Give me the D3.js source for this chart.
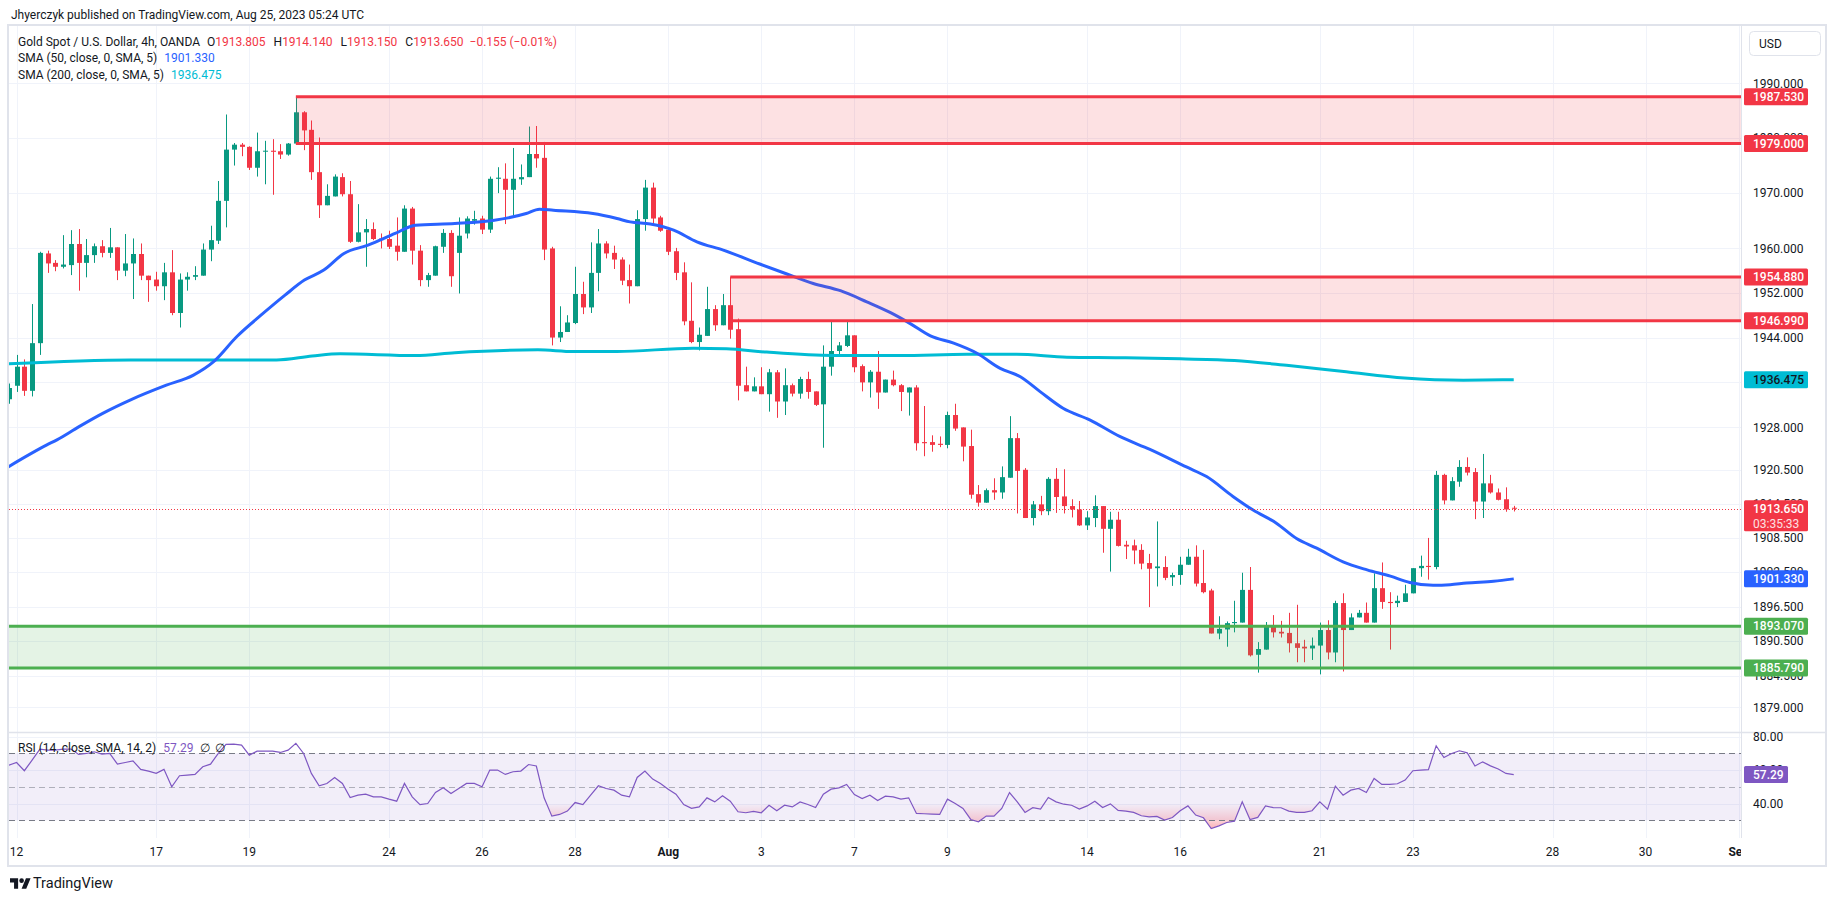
<!DOCTYPE html>
<html>
<head>
<meta charset="utf-8">
<script src="https://cdnjs.cloudflare.com/ajax/libs/d3/7.8.5/d3.min.js"></script>
<style>
  body { margin: 0; background: #fff; }
  svg { display: block; font-family: Roboto, "Noto Sans", sans-serif; }
</style>
</head>
<body>
<svg id="chart"></svg>
<script>
// ---- values (4h XAUUSD, bar 0 = Jul 12 first bar) ----
const firstBar = -1;
const opens = [1933.0,
  1935.4,1938.8,1934.5,1943.0,1959.1,1957.4,1956.7,1957.0,1960.8,1957.4,
  1958.8,1960.4,1959.2,1960.2,1956.0,1957.3,1959.0,1955.1,1954.4,1953.2,
  1955.7,1948.4,1954.4,1954.9,1955.1,1959.8,1961.4,1968.6,1977.9,1978.8,
  1978.4,1974.6,1977.6,1977.7,1977.6,1977.0,1979.0,1984.7,1981.5,1973.8,
  1967.8,1969.4,1972.9,1969.8,1961.2,1962.9,1963.5,1961.8,1961.7,1960.5,
  1959.4,1967.2,1959.6,1954.3,1955.1,1960.3,1962.8,1959.2,1962.7,1965.0,
  1965.4,1963.4,1972.6,1972.6,1970.6,1972.5,1972.9,1977.1,1976.4,1960.0,
  1944.0,1945.0,1946.6,1951.8,1949.4,1955.6,1960.9,1959.2,1958.0,1954.3,
  1953.2,1965.3,1971.0,1965.6,1963.4,1959.5,1955.7,1947.0,1943.2,1944.3,
  1949.1,1946.2,1949.8,1945.5,1935.5,1934.4,1935.3,1933.9,1937.8,1932.6,
  1935.5,1934.0,1936.6,1934.4,1932.1,1938.8,1941.6,1942.5,1944.4,1938.9,
  1936.0,1937.9,1934.2,1936.5,1935.5,1934.2,1935.1,1925.4,1925.4,1925.1,
  1924.9,1930.2,1928.0,1924.7,1916.2,1914.7,1916.9,1916.5,1919.1,1926.1,
  1920.5,1912.0,1914.4,1913.2,1918.9,1915.8,1914.1,1913.5,1910.7,1912.0,
  1914.1,1910.1,1911.7,1907.3,1907.2,1906.4,1904.1,1903.2,1903.4,1901.6,
  1902.0,1903.8,1905.2,1900.6,1899.3,1891.8,1892.5,1893.6,1893.7,1899.4,
  1888.1,1889.0,1893.1,1892.1,1891.9,1890.1,1889.5,1889.2,1889.7,1892.4,
  1888.5,1897.1,1892.4,1894.6,1895.4,1893.7,1899.7,1897.3,1897.1,1897.3,
  1898.8,1903.2,1903.6,1903.4,1919.6,1915.1,1918.4,1921.0,1920.1,1914.9,
  1918.1,1916.5,1915.3,1913.805];
const highs = [1935.8,
  1940.9,1940.1,1950.0,1959.4,1959.6,1957.9,1962.4,1963.3,1963.5,1961.7,
  1960.9,1961.5,1963.7,1960.2,1962.6,1961.8,1960.9,1955.1,1955.8,1957.4,
  1959.7,1955.5,1955.7,1956.8,1960.9,1964.1,1972.2,1984.3,1979.1,1979.1,
  1978.5,1981.0,1979.5,1979.8,1978.9,1979.1,1987.53,1984.9,1983.2,1980.1,
  1971.6,1973.4,1973.6,1972.2,1968.0,1965.3,1964.7,1962.7,1963.2,1965.6,
  1967.8,1967.5,1960.6,1955.6,1960.5,1963.5,1963.3,1965.6,1965.8,1966.8,
  1965.9,1973.0,1974.7,1975.4,1978.2,1975.2,1982.1,1982.2,1979.3,1960.3,
  1949.6,1948.0,1956.7,1954.0,1961.1,1963.5,1961.3,1960.5,1958.4,1957.1,
  1966.9,1972.4,1971.9,1965.9,1963.8,1960.1,1957.5,1953.9,1945.8,1953.1,
  1949.8,1951.8,1954.88,1947.4,1938.8,1936.9,1938.7,1938.4,1938.2,1938.5,
  1935.8,1937.0,1937.9,1934.4,1942.6,1946.9,1943.2,1946.9,1944.4,1939.2,
  1938.2,1941.6,1936.5,1938.1,1935.7,1935.1,1935.5,1931.8,1926.6,1926.4,
  1930.8,1932.2,1928.0,1927.6,1917.8,1917.2,1919.0,1921.1,1930.0,1927.0,
  1920.8,1915.0,1915.9,1919.2,1920.8,1920.6,1915.3,1915.0,1913.2,1916.0,
  1914.1,1913.1,1913.1,1908.0,1908.2,1907.4,1905.7,1911.4,1905.3,1902.4,
  1905.2,1906.6,1907.2,1906.4,1899.6,1894.8,1893.9,1897.5,1902.4,1903.4,
  1890.3,1893.8,1895.0,1894.0,1895.4,1896.8,1890.7,1891.1,1893.7,1894.1,
  1897.5,1898.8,1895.3,1895.9,1897.2,1902.3,1904.2,1899.0,1898.4,1900.3,
  1903.2,1905.4,1908.5,1920.3,1919.8,1919.2,1922.2,1922.7,1920.8,1923.3,
  1919.6,1917.2,1917.4,1914.14];
const lows = [1932.2,
  1934.3,1933.6,1933.5,1940.9,1955.6,1955.9,1956.4,1955.2,1952.4,1954.8,
  1957.4,1958.4,1958.3,1954.3,1955.0,1950.9,1954.3,1950.4,1952.4,1950.7,
  1948.0,1945.8,1952.4,1954.3,1955.1,1957.7,1960.8,1963.8,1975.0,1976.7,
  1974.2,1973.0,1971.6,1969.7,1976.2,1976.8,1979.0,1977.8,1972.4,1965.5,
  1967.8,1969.4,1969.4,1961.0,1961.1,1956.7,1961.5,1960.0,1959.9,1957.8,
  1959.4,1957.1,1953.2,1953.1,1955.1,1959.2,1953.1,1951.9,1961.8,1964.3,
  1962.6,1962.8,1970.0,1964.4,1966.0,1971.5,1972.9,1974.6,1957.9,1942.6,
  1943.2,1945.0,1946.4,1948.2,1948.4,1952.3,1958.2,1956.3,1953.4,1950.1,
  1953.2,1963.2,1964.1,1963.0,1958.8,1954.3,1946.2,1943.0,1941.7,1944.3,
  1945.2,1946.2,1943.8,1932.8,1934.4,1934.4,1933.9,1930.8,1929.7,1930.2,
  1933.5,1933.1,1933.1,1931.8,1924.4,1937.2,1940.6,1942.3,1937.8,1934.4,
  1933.3,1931.3,1934.2,1935.3,1930.9,1930.1,1923.9,1922.9,1923.7,1924.5,
  1924.3,1927.4,1922.0,1915.4,1914.0,1914.7,1915.2,1915.4,1919.1,1912.8,
  1912.0,1910.7,1912.5,1912.5,1912.9,1912.8,1912.1,1910.6,1909.9,1910.4,
  1905.9,1902.6,1907.0,1904.8,1903.9,1903.0,1896.4,1900.0,1901.1,1900.1,
  1900.3,1903.8,1900.0,1898.8,1891.8,1890.8,1889.5,1892.0,1893.7,1887.8,
  1885.0,1889.0,1891.1,1891.1,1888.5,1886.8,1886.8,1887.2,1884.7,1887.3,
  1886.8,1885.2,1892.4,1894.6,1893.7,1893.7,1896.1,1889.0,1896.4,1897.3,
  1898.8,1901.7,1901.2,1903.0,1914.4,1915.1,1917.5,1919.5,1911.8,1912.0,
  1916.3,1915.1,1913.1,1913.15];
const closes = [1935.0,
  1938.8,1934.5,1943.0,1959.2,1957.3,1956.7,1957.1,1960.8,1957.4,1958.8,
  1960.4,1959.2,1960.2,1956.0,1957.3,1959.0,1955.1,1954.3,1953.2,1955.7,
  1948.4,1954.4,1954.9,1955.2,1959.8,1961.5,1968.6,1977.9,1978.8,1978.4,
  1974.6,1977.6,1977.7,1977.5,1977.0,1979.0,1984.7,1981.4,1973.8,1967.8,
  1969.5,1973.0,1969.8,1961.2,1962.9,1963.5,1961.7,1961.5,1960.3,1959.4,
  1967.2,1959.6,1954.3,1955.2,1960.4,1962.8,1955.0,1962.3,1965.4,1965.3,
  1963.4,1972.6,1972.8,1970.6,1972.6,1972.9,1977.1,1976.3,1959.8,1944.0,
  1945.0,1946.7,1951.8,1949.4,1955.6,1960.9,1959.1,1958.0,1954.2,1953.2,
  1965.3,1971.0,1965.4,1963.2,1959.4,1955.6,1946.9,1943.2,1944.5,1949.1,
  1946.2,1949.8,1945.4,1935.4,1934.4,1935.3,1933.9,1937.8,1932.6,1935.5,
  1934.0,1936.6,1934.3,1932.0,1938.8,1941.6,1942.6,1944.4,1938.7,1936.0,
  1937.9,1934.2,1936.5,1935.5,1934.3,1935.1,1925.2,1925.2,1924.9,1924.9,
  1930.2,1927.8,1924.6,1916.1,1914.7,1916.9,1916.5,1919.2,1926.1,1920.3,
  1912.0,1914.4,1913.2,1918.9,1915.7,1914.1,1913.5,1910.7,1912.1,1914.1,
  1910.1,1911.7,1907.1,1907.0,1906.3,1904.0,1903.1,1903.5,1901.5,1902.0,
  1903.8,1905.2,1900.5,1899.0,1891.8,1892.6,1893.6,1893.8,1899.4,1888.0,
  1889.1,1893.1,1892.0,1891.8,1890.1,1889.3,1889.2,1889.7,1892.4,1888.5,
  1897.1,1892.4,1894.6,1895.4,1893.7,1899.7,1897.3,1897.1,1897.5,1898.8,
  1903.2,1903.6,1903.4,1919.6,1915.1,1918.5,1921.0,1920.0,1914.9,1918.1,
  1916.5,1915.2,1913.5,1913.65];

// RSI(14) per bar, same bars as above
const rsiValues = [62.9,
  64.5,59.6,65.9,72.5,71.9,71.9,72.5,72.5,69.3,69.9,
  70.9,69.5,69.9,63.5,64.5,65.5,60.4,59.4,58.0,60.4,
  50.0,56.6,57.0,57.4,62.0,63.5,69.9,75.3,75.5,74.9,
  68.9,71.3,71.3,71.3,70.5,71.9,75.9,69.9,58.0,50.6,
  52.0,55.6,52.0,43.6,45.0,45.6,44.0,44.0,42.6,41.4,
  52.0,44.0,39.4,40.0,46.6,49.4,46.0,49.0,52.0,52.0,
  50.0,60.0,60.0,57.4,59.0,59.4,63.3,62.4,43.4,32.5,
  33.5,35.5,40.6,39.4,45.0,50.6,49.0,48.0,45.0,44.0,
  55.6,59.4,54.6,52.0,48.6,45.6,39.4,37.1,38.0,43.4,
  41.0,44.6,41.4,35.1,34.5,35.3,34.5,39.0,35.7,39.0,
  38.0,41.0,39.4,37.6,45.6,48.6,49.4,51.4,45.4,43.0,
  45.0,41.8,44.4,44.0,42.6,43.4,34.1,33.9,33.7,33.5,
  42.6,40.0,37.1,30.5,29.1,32.5,32.5,37.1,46.6,41.0,
  34.7,37.5,36.7,43.6,41.0,39.6,39.0,36.7,38.6,41.4,
  37.6,39.8,35.9,35.5,34.7,32.7,32.1,32.3,30.1,31.7,
  35.7,38.6,33.1,31.5,25.1,26.7,28.7,29.5,41.0,30.5,
  31.7,38.6,37.6,37.5,35.5,34.7,34.7,35.7,41.0,36.7,
  50.4,45.0,48.0,49.0,46.6,55.0,51.4,51.4,51.8,54.0,
  59.6,60.0,60.2,74.5,67.5,69.9,71.5,70.3,62.4,64.9,
  62.5,60.6,58.0,57.29];

// moving averages, read at bar positions
const sma50Bars = [-1.1,3.9,5.2,8.0,11.1,14.7,19.3,22.8,25.4,28.4,31.5,34.6,37.1,39.6,42.2,45.3,48.8,51.4,56.5,61.6,65.7,67.4,69.2,74.3,77.4,79.1,81.7,84.7,87.7,91.1,95.8,99.3,102.7,106.2,109.6,112.6,115.2,117.8,120.8,123.8,126.8,129.4,131.9,134.9,138.4,142.2,146.1,150.8,153.4,156.8,159.4,162.4,165.0,167.6,171.0,174.1,177.1,179.6,182.6,184.8,186.9,190.4,193];
const sma50Values = [1921.0,1924.9,1925.8,1928.1,1930.5,1932.9,1935.5,1937.3,1939.7,1944.2,1948.0,1951.6,1954.3,1956.1,1959.1,1960.6,1962.7,1964.2,1964.5,1965.1,1966.3,1967.1,1966.9,1966.3,1965.4,1964.8,1964.4,1963.3,1961.2,1959.7,1957.2,1955.4,1953.7,1952.4,1950.4,1948.5,1946.5,1944.3,1943.0,1941.2,1938.5,1937.0,1934.4,1931.4,1929.3,1926.4,1924.1,1921.0,1919.3,1915.8,1913.4,1911.1,1908.4,1906.7,1904.3,1902.9,1901.8,1900.7,1900.2,1900.3,1900.6,1900.9,1901.33];
const sma200Bars = [-1.1,14.7,33.5,38.1,41.7,51.4,56.5,67.2,71.8,77.4,87.2,91.5,96.7,105.3,113.9,122.5,128.9,135.4,142.2,150,157,164,171.4,178.9,186.5,193];
const sma200Values = [1939.3,1940.0,1940.0,1940.7,1941.1,1940.8,1941.3,1941.8,1941.5,1941.5,1942.1,1942.0,1941.4,1940.8,1940.8,1941.0,1941.0,1940.5,1940.4,1940.2,1939.9,1939.0,1937.9,1936.8,1936.4,1936.475];

// drawn zones
const redZoneTop = [1987.53, 1954.88];
const redZoneBottom = [1979.0, 1946.99];
const redZoneFromBar = [36, 92];
const greenZone = [1893.07, 1885.79];

// axes
const priceTicks = [1990, 1980, 1970, 1960, 1952, 1944, 1936, 1928, 1920.5, 1914.5, 1908.5, 1902.5, 1896.5, 1890.5, 1884.5, 1879];
const rsiTicks = [80, 60, 40];
const dayLabels = ["12","17","19","24","26","28","Aug","3","7","9","14","16","21","23","28","30","Sep"];
const dayBars = [0,18,30,48,60,72,84,96,108,120,138,150,168,180,198,210,222];

const lastO = 1913.805, lastH = 1914.140, lastL = 1913.150, lastC = 1913.650, lastChg = -0.155, lastPct = -0.01;
const sma50Last = 1901.330, sma200Last = 1936.475, rsiLast = 57.29;
const countdown = "03:35:33";

(function(){

  const W = 1835, H = 901;
  const pane = {left: 9, right: 1741, top: 26, bottom: 732};
  const rsiPane = {top: 732, bottom: 838};
  const frame = {left: 9, right: 1825, top: 26, bottom: 865};

  const upCol = "#089981", downCol = "#f23645", txt = "#131722",
        gridCol = "#f0f3fa", borderCol = "#e0e3eb",
        blue = "#2962ff", cyan = "#00bcd4", zoneGreen = "#4caf50", purple = "#7e57c2";

  const svg = d3.select("#chart").attr("width", W).attr("height", H);

  const x = d3.scaleLinear().domain([0, 222]).range([16.6, 1738.7]);
  const y = d3.scaleLog().domain([1879, 1990]).range([707.3, 83.3]);
  const ry = d3.scaleLinear().domain([30, 70]).range([820.3, 753.3]);
  const f3 = d3.format(".3f"), f2 = d3.format(".2f");
  const crisp = v => Math.round(v) + 0.5;

  const defs = svg.append("defs");
  const clip = (id, x0, y0, x1, y1) => defs.append("clipPath").attr("id", id).append("rect")
      .attr("x", x0).attr("y", y0).attr("width", x1 - x0).attr("height", y1 - y0);
  clip("priceClip", pane.left, pane.top, pane.right, pane.bottom);
  clip("rsiClip", pane.left, rsiPane.top, pane.right, rsiPane.bottom);
  clip("timeClip", pane.left, rsiPane.bottom, pane.right, frame.bottom);

  const grad = defs.append("linearGradient").attr("id", "oversold")
      .attr("gradientUnits", "userSpaceOnUse")
      .attr("x1", 0).attr("x2", 0).attr("y1", ry(40)).attr("y2", ry(20));
  grad.append("stop").attr("offset", 0).attr("stop-color", downCol).attr("stop-opacity", 0);
  grad.append("stop").attr("offset", 0.5).attr("stop-color", downCol).attr("stop-opacity", 0.22);
  grad.append("stop").attr("offset", 1).attr("stop-color", downCol).attr("stop-opacity", 0.55);

  // header line
  svg.append("text").attr("x", 11).attr("y", 15).attr("dy", "0.35em")
    .style("font-size", "12px").attr("fill", txt)
    .text("Jhyerczyk published on TradingView.com, Aug 25, 2023 05:24 UTC");

  // grid
  const grid = svg.append("g").attr("stroke", gridCol).attr("stroke-width", 1);
  grid.selectAll(".hg").data(priceTicks).join("line")
    .attr("x1", pane.left).attr("x2", pane.right)
    .attr("y1", d => crisp(y(d))).attr("y2", d => crisp(y(d)));
  grid.selectAll(".rg").data(rsiTicks).join("line")
    .attr("x1", pane.left).attr("x2", pane.right)
    .attr("y1", d => crisp(ry(d))).attr("y2", d => crisp(ry(d)));
  grid.selectAll(".vg").data(dayBars.filter(b => x(b) < pane.right - 2)).join("line")
    .attr("x1", d => crisp(x(d))).attr("x2", d => crisp(x(d)))
    .attr("y1", pane.top).attr("y2", rsiPane.bottom);

  // candles
  const bars = opens.map((o, k) => ({i: k + firstBar, o: o, h: highs[k], l: lows[k], c: closes[k]}));
  const candles = svg.append("g").attr("clip-path", "url(#priceClip)");
  const bar = candles.selectAll("g").data(bars).join("g");
  const colOf = d => d.c >= d.o ? upCol : downCol;
  bar.append("line")
    .attr("x1", d => Math.round(x(d.i)) + 0.5).attr("x2", d => Math.round(x(d.i)) + 0.5)
    .attr("y1", d => y(d.h)).attr("y2", d => y(d.l))
    .attr("stroke", colOf).attr("stroke-width", 1);
  bar.append("rect")
    .attr("x", d => Math.round(x(d.i)) - 2).attr("width", 5)
    .attr("y", d => y(Math.max(d.o, d.c)))
    .attr("height", d => Math.max(1, Math.abs(y(d.o) - y(d.c))))
    .attr("fill", colOf);

  // moving averages
  const maLine = d3.line().x(d => x(d[0])).y(d => y(d[1])).curve(d3.curveMonotoneX);
  const maG = svg.append("g").attr("clip-path", "url(#priceClip)").attr("fill", "none");
  maG.append("path").datum(d3.zip(sma200Bars, sma200Values)).attr("d", maLine)
    .attr("stroke", cyan).attr("stroke-width", 3);
  maG.append("path").datum(d3.zip(sma50Bars, sma50Values)).attr("d", maLine)
    .attr("stroke", blue).attr("stroke-width", 3);

  // zones
  const zones = svg.append("g").attr("clip-path", "url(#priceClip)");
  redZoneTop.forEach((top, k) => {
    const x0 = x(redZoneFromBar[k]);
    zones.append("rect").attr("x", x0).attr("width", pane.right - x0)
      .attr("y", y(top)).attr("height", y(redZoneBottom[k]) - y(top))
      .attr("fill", downCol).attr("fill-opacity", 0.15);
    [top, redZoneBottom[k]].forEach(v => zones.append("line")
      .attr("x1", x0).attr("x2", pane.right).attr("y1", y(v)).attr("y2", y(v))
      .attr("stroke", downCol).attr("stroke-width", 3));
  });
  zones.append("rect").attr("x", pane.left).attr("width", pane.right - pane.left)
    .attr("y", y(greenZone[0])).attr("height", y(greenZone[1]) - y(greenZone[0]))
    .attr("fill", zoneGreen).attr("fill-opacity", 0.15);
  greenZone.forEach(v => zones.append("line")
    .attr("x1", pane.left).attr("x2", pane.right).attr("y1", y(v)).attr("y2", y(v))
    .attr("stroke", zoneGreen).attr("stroke-width", 3));

  // last price dotted line
  svg.append("line").attr("x1", pane.left).attr("x2", pane.right)
    .attr("y1", crisp(y(lastC))).attr("y2", crisp(y(lastC)))
    .attr("stroke", downCol).attr("stroke-dasharray", "1,2");

  // RSI pane
  const rsiG = svg.append("g").attr("clip-path", "url(#rsiClip)");
  rsiG.append("rect").attr("x", pane.left).attr("width", pane.right - pane.left)
    .attr("y", ry(70)).attr("height", ry(30) - ry(70))
    .attr("fill", purple).attr("fill-opacity", 0.1);
  const rsiPts = rsiValues.map((v, k) => [k + firstBar, v]);
  rsiG.append("path").datum(rsiPts)
    .attr("d", d3.area().x(d => x(d[0])).y0(ry(50)).y1(d => ry(Math.min(d[1], 50))))
    .attr("fill", "url(#oversold)");
  [[70, "#787b86"], [50, "rgba(120,123,134,0.55)"], [30, "#787b86"]].forEach(([lv, c]) =>
    rsiG.append("line").attr("x1", pane.left).attr("x2", pane.right)
      .attr("y1", crisp(ry(lv))).attr("y2", crisp(ry(lv)))
      .attr("stroke", c).attr("stroke-dasharray", "6,4"));
  rsiG.append("path").datum(rsiPts)
    .attr("d", d3.line().x(d => x(d[0])).y(d => ry(d[1])))
    .attr("fill", "none").attr("stroke", purple).attr("stroke-width", 1.2);

  // frame and separators
  const fr = svg.append("g").attr("stroke", borderCol).attr("fill", "none");
  fr.append("rect").attr("x", frame.left - 1).attr("y", frame.top - 1)
    .attr("width", frame.right - frame.left + 2).attr("height", frame.bottom - frame.top + 2)
    .attr("stroke-width", 2);
  fr.append("line").attr("x1", crisp(pane.right)).attr("x2", crisp(pane.right))
    .attr("y1", frame.top).attr("y2", rsiPane.bottom);
  fr.append("line").attr("x1", frame.left).attr("x2", frame.right)
    .attr("y1", crisp(pane.bottom)).attr("y2", crisp(pane.bottom)).attr("stroke-width", 1.5);

  // price axis ticks (some sit under the coloured marks, as in the original)
  const axisX = 1753;
  svg.append("g").style("font-size", "12px").attr("fill", txt)
    .selectAll("text").data(priceTicks).join("text")
    .attr("x", axisX).attr("y", d => y(d)).attr("dy", "0.35em").text(f3);
  svg.append("g").style("font-size", "12px").attr("fill", txt)
    .selectAll("text").data(rsiTicks).join("text")
    .attr("x", axisX).attr("y", d => ry(d)).attr("dy", "0.35em").text(f2);

  // coloured axis marks
  const mark = (yy, label, fill, col, w) => {
    const g = svg.append("g");
    g.append("rect").attr("x", 1744).attr("y", yy - 8.5).attr("width", w || 64).attr("height", 17)
      .attr("rx", 1.5).attr("fill", fill);
    g.append("text").attr("x", 1753).attr("y", yy).attr("dy", "0.35em")
      .style("font-size", "12px").style("font-weight", 500).attr("fill", col).text(label);
  };
  redZoneTop.forEach((v, k) => { mark(y(v), f3(v), downCol, "#fff"); mark(y(redZoneBottom[k]), f3(redZoneBottom[k]), downCol, "#fff"); });
  mark(y(sma200Last), f3(sma200Last), cyan, txt);
  mark(y(sma50Last), f3(sma50Last), blue, "#fff");
  greenZone.forEach(v => mark(y(v), f3(v), zoneGreen, "#fff"));
  // last price with countdown
  const lp = svg.append("g");
  lp.append("rect").attr("x", 1744).attr("y", y(lastC) - 8.5).attr("width", 64).attr("height", 31)
    .attr("rx", 1.5).attr("fill", downCol);
  lp.append("text").attr("x", 1753).attr("y", y(lastC)).attr("dy", "0.35em")
    .style("font-size", "12px").style("font-weight", 500).attr("fill", "#fff").text(f3(lastC));
  lp.append("text").attr("x", 1753).attr("y", y(lastC) + 15).attr("dy", "0.35em")
    .style("font-size", "12px").attr("fill", "#fde0e2").text(countdown);
  mark(ry(rsiLast), f2(rsiLast), purple, "#fff", 44);

  // USD box
  svg.append("rect").attr("x", 1749.5).attr("y", 31.5).attr("width", 71).attr("height", 24).attr("rx", 4)
    .attr("fill", "#fff").attr("stroke", borderCol);
  svg.append("text").attr("x", 1759).attr("y", 43.5).attr("dy", "0.35em")
    .style("font-size", "12px").attr("fill", txt).text("USD");

  // time axis
  svg.append("g").attr("clip-path", "url(#timeClip)")
    .selectAll("text").data(dayLabels).join("text")
    .attr("x", (d, k) => x(dayBars[k])).attr("y", 852).attr("dy", "0.35em")
    .attr("text-anchor", "middle").style("font-size", "12px")
    .style("font-weight", d => isNaN(+d) ? 700 : 400)
    .attr("fill", txt).text(d => d);

  // legends
  const legend = (yy, parts) => {
    const t = svg.append("text").attr("x", 18).attr("y", yy).attr("dy", "0.35em").style("font-size", "12px");
    parts.forEach(p => t.append("tspan").attr("dx", p[2] || 0).attr("fill", p[1]).text(p[0]));
  };
  legend(42, [["Gold Spot / U.S. Dollar, 4h, OANDA", txt],
    ["O", txt, 7], [f3(lastO), downCol], ["H", txt, 8], [f3(lastH), downCol],
    ["L", txt, 8], [f3(lastL), downCol], ["C", txt, 8], [f3(lastC), downCol],
    [d3.format(".3f")(lastChg).replace("-", "\u2212") + " (" + f2(lastPct).replace("-", "\u2212") + "%)", downCol, 6]]);
  legend(58, [["SMA (50, close, 0, SMA, 5)", txt], [f3(sma50Last), blue, 7]]);
  legend(75, [["SMA (200, close, 0, SMA, 5)", txt], [f3(sma200Last), cyan, 7]]);
  legend(748, [["RSI (14, close, SMA, 14, 2)", txt], [f2(rsiLast), purple, 7], ["\u2205", txt, 7], ["\u2205", txt, 5]]);

  // TradingView mark
  const logo = svg.append("g").attr("transform", "translate(10,876) scale(0.58)").attr("fill", txt);
  logo.append("path").attr("d", "M14 22H7V11H0V4h14v18zM28 22h-8l7.5-18h8L28 22z");
  logo.append("circle").attr("cx", 20).attr("cy", 8).attr("r", 4);
  svg.append("text").attr("x", 33).attr("y", 883).attr("dy", "0.35em")
    .style("font-size", "14.5px").attr("fill", txt).text("TradingView");

})();
</script>
</body>
</html>
